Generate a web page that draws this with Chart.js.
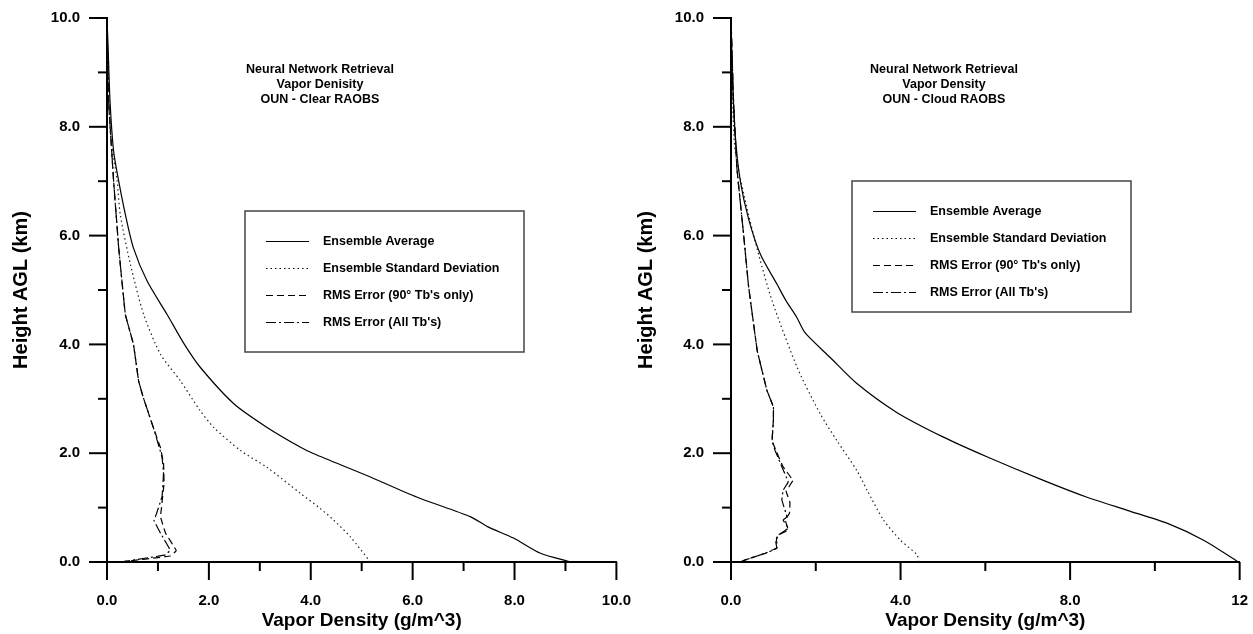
<!DOCTYPE html>
<html>
<head>
<meta charset="utf-8">
<script src="https://cdn.jsdelivr.net/npm/chart.js@4.4.1/dist/chart.umd.min.js"></script>
<style>
  html, body { margin: 0; padding: 0; background: #fff; overflow: hidden; }
  #left { position: absolute; left: 0; top: 0; }
  #right { position: absolute; left: 625px; top: 0; }
</style>
</head>
<body>
<canvas id="left" width="643" height="634"></canvas>
<canvas id="right" width="635" height="634"></canvas>
<script>
// Clear RAOBS - heights (km) and vapor density (g/m^3)
var clearAvgHeight = [0, 0.16, 0.44, 0.65, 0.83, 1.19, 1.59, 1.99, 2.11, 2.47, 2.91, 3.58, 4.0, 4.55, 5.16, 5.77, 6.39, 7.0, 7.55, 8.46, 9.5, 10];
var clearAvgValue  = [9.1, 8.51, 7.98, 7.47, 7.14, 6.09, 5.1, 4.06, 3.8, 3.15, 2.49, 1.83, 1.52, 1.18, 0.79, 0.52, 0.36, 0.23, 0.13, 0.06, 0.02, 0];

var clearStdHeight = [0, 0.46, 0.77, 0.98, 1.26, 1.74, 2.05, 2.47, 2.78, 3.33, 3.82, 4.55, 5.47, 6.39, 7.0, 7.85, 9.0, 10];
var clearStdValue  = [5.17, 4.78, 4.45, 4.19, 3.8, 3.14, 2.62, 2.1, 1.83, 1.44, 1.05, 0.72, 0.46, 0.26, 0.2, 0.07, 0.02, 0];

var clearRms90Height = [0, 0.11, 0.21, 0.53, 0.83, 1.0, 1.45, 1.81, 2.1, 2.47, 3.03, 3.33, 4.0, 4.55, 5.77, 7.0, 8.5, 10];
var clearRms90Value  = [0.26, 1.24, 1.36, 1.15, 1.05, 1.07, 1.12, 1.11, 1.05, 0.91, 0.71, 0.62, 0.52, 0.36, 0.23, 0.13, 0.03, 0];

var clearRmsAllHeight = [0, 0.13, 0.22, 0.53, 0.77, 0.83, 1.2, 1.63, 1.93, 2.47, 3.03, 3.33, 4.0, 4.55, 5.77, 7.0, 8.5, 10];
var clearRmsAllValue  = [0.26, 1.15, 1.24, 1.05, 0.92, 0.95, 1.08, 1.11, 1.08, 0.91, 0.71, 0.62, 0.52, 0.36, 0.23, 0.13, 0.03, 0];

// Cloud RAOBS
var cloudAvgHeight = [0, 0.4, 0.71, 0.95, 1.19, 1.5, 1.93, 2.3, 2.75, 3.28, 3.76, 4.21, 4.5, 4.8, 5.1, 5.66, 6.32, 7.0, 7.85, 9.0, 10];
var cloudAvgValue  = [11.97, 11.15, 10.3, 9.35, 8.4, 7.37, 6.05, 5.0, 3.91, 2.97, 2.34, 1.75, 1.55, 1.3, 1.09, 0.69, 0.41, 0.22, 0.1, 0.03, 0];

var cloudStdHeight = [0, 0.13, 0.4, 0.77, 1.32, 1.68, 2.23, 2.73, 3.58, 4.8, 5.66, 6.5, 7.55, 8.5, 10];
var cloudStdValue  = [4.42, 4.39, 4.0, 3.6, 3.21, 2.97, 2.5, 2.1, 1.56, 0.97, 0.65, 0.38, 0.1, 0.04, 0];

var cloudRms90Height = [0, 0.04, 0.16, 0.27, 0.4, 0.49, 0.59, 0.77, 0.9, 1.1, 1.3, 1.5, 1.75, 2.05, 2.23, 2.6, 2.85, 3.15, 3.88, 4.8, 5.1, 6.0, 7.23, 8.46, 10];
var cloudRms90Value  = [0.22, 0.34, 0.81, 1.1, 1.07, 1.11, 1.35, 1.28, 1.38, 1.39, 1.3, 1.46, 1.23, 1.06, 0.97, 1.0, 1.0, 0.85, 0.62, 0.46, 0.41, 0.3, 0.14, 0.06, 0];

var cloudRmsAllHeight = [0, 0.04, 0.16, 0.25, 0.4, 0.49, 0.62, 0.77, 0.83, 1.14, 1.32, 1.47, 1.75, 2.05, 2.23, 2.6, 2.85, 3.15, 3.88, 4.8, 5.1, 6.0, 7.23, 8.46, 10];
var cloudRmsAllValue  = [0.22, 0.34, 0.81, 1.08, 1.05, 1.11, 1.35, 1.23, 1.32, 1.2, 1.23, 1.35, 1.2, 1.04, 0.97, 1.0, 1.0, 0.85, 0.62, 0.46, 0.41, 0.3, 0.14, 0.06, 0];

var seriesNames = ['Ensemble Average', 'Ensemble Standard Deviation', "RMS Error (90\u00b0 Tb's only)", "RMS Error (All Tb's)"];

// tick labels (major ticks only)
var heightTickLabels = ['0.0', '2.0', '4.0', '6.0', '8.0', '10.0'];
var clearXTickLabels = ['0.0', '2.0', '4.0', '6.0', '8.0', '10.0'];
var cloudXTickLabels = ['0.0', '4.0', '8.0', '12'];

var clearTitle = ['Neural Network Retrieval', 'Vapor Denisity', 'OUN - Clear RAOBS'];
var cloudTitle = ['Neural Network Retrieval', 'Vapor Density', 'OUN - Cloud RAOBS'];

Chart.defaults.font.family = '"Liberation Sans", Arial, sans-serif';
Chart.defaults.color = '#000';

var FONT = '"Liberation Sans", Arial, sans-serif';
var dashes = [[], [1.5, 3], [7, 4], [10, 3, 2, 3]];

function toPoints(heights, values){
    var pts = [];
    for (var i = 0; i < heights.length; i++)
        pts.push({x: values[i], y: heights[i]});
    return pts;
}

// draws tick marks, the title block and the boxed legend
var profileDecor = {
    id: 'profileDecor',
    afterDraw: function(chart, args, opts){
        var ctx = chart.ctx;
        var area = chart.chartArea;
        ctx.save();
        ctx.strokeStyle = '#000';
        ctx.lineWidth = 2;
        ['x', 'y'].forEach(function(id){
            var sc = chart.scales[id];
            sc.ticks.forEach(function(t){
                var len = t.label === '' ? 9 : 18;
                var p = sc.getPixelForValue(t.value);
                ctx.beginPath();
                if (id === 'x'){
                    ctx.moveTo(p, area.bottom);
                    ctx.lineTo(p, area.bottom + len);
                } else {
                    ctx.moveTo(area.left - len, p);
                    ctx.lineTo(area.left, p);
                }
                ctx.stroke();
            });
        });

        // title lines
        ctx.fillStyle = '#000';
        ctx.font = 'bold 12.5px ' + FONT;
        ctx.textAlign = 'center';
        ctx.textBaseline = 'middle';
        opts.title.forEach(function(s, i){
            ctx.fillText(s, area.left + opts.titleX, area.top + opts.titleY + i * 15);
        });

        // legend box
        var b = opts.box;
        var bx = Math.round(area.left + b.left), by = Math.round(area.top + b.top);
        ctx.lineWidth = 1.5;
        ctx.strokeStyle = '#444';
        ctx.strokeRect(bx, by, b.width, b.height);
        ctx.textAlign = 'left';
        chart.data.datasets.forEach(function(ds, i){
            var y = by + 30 + i * 27 + 0.5;
            ctx.setLineDash(ds.borderDash);
            ctx.strokeStyle = '#000';
            ctx.lineWidth = 1;
            ctx.beginPath();
            ctx.moveTo(bx + 21, y);
            ctx.lineTo(bx + 64, y);
            ctx.stroke();
            ctx.setLineDash([]);
            ctx.fillText(ds.label, bx + 78, y);
        });
        ctx.restore();
    }
};

function makeChart(id, series, xMax, xStep, xMajor, xLabels, title, box, yWidth){
    var datasets = series.map(function(s, i){
        return {
            label: seriesNames[i],
            data: toPoints(s[0], s[1]),
            showLine: true,
            borderColor: i === 1 ? '#222' : '#000',
            borderWidth: 1.2,
            borderDash: dashes[i],
            pointRadius: 0,
            tension: i < 2 ? 0.25 : 0.05,
            clip: false
        };
    });
    return new Chart(document.getElementById(id), {
        type: 'scatter',
        data: {datasets: datasets},
        plugins: [profileDecor],
        options: {
            responsive: false,
            animation: false,
            layout: {padding: {top: 16, right: 0, left: 0, bottom: 0}},
            plugins: {
                legend: {display: false},
                tooltip: {enabled: false},
                profileDecor: {title: title, titleX: 213, titleY: 52, box: box}
            },
            scales: {
                x: {
                    type: 'linear', min: 0, max: xMax,
                    afterFit: function(scale){ scale.height = 72; },
                    grid: {display: false, drawTicks: true, tickLength: 18},
                    border: {display: true, color: '#000', width: 2},
                    ticks: {
                        stepSize: xStep, autoSkip: false, maxRotation: 0, padding: 12,
                        font: {size: 15, weight: 'bold'},
                        callback: function(v){
                            var k = Math.round(v / xMajor);
                            return Math.abs(v - k * xMajor) < 1e-6 ? xLabels[k] : '';
                        }
                    },
                    title: {
                        display: true, text: 'Vapor Density (g/m^3)',
                        font: {size: 19, weight: 'bold'}, padding: {top: 0, bottom: 2}
                    }
                },
                y: {
                    type: 'linear', min: 0, max: 10,
                    afterFit: function(scale){ scale.width = yWidth; },
                    grid: {display: false, drawTicks: true, tickLength: 18},
                    border: {display: true, color: '#000', width: 2},
                    ticks: {
                        stepSize: 1, autoSkip: false, padding: 9,
                        font: {size: 15, weight: 'bold'},
                        callback: function(v){
                            var k = Math.round(v / 2);
                            return Math.abs(v - k * 2) < 1e-6 ? heightTickLabels[k] : '';
                        }
                    },
                    title: {
                        display: true, text: 'Height AGL (km)',
                        font: {size: 20, weight: 'bold'}, padding: {top: 9, bottom: 0}
                    }
                }
            }
        }
    });
}

makeChart('left', [
    [clearAvgHeight, clearAvgValue],
    [clearStdHeight, clearStdValue],
    [clearRms90Height, clearRms90Value],
    [clearRmsAllHeight, clearRmsAllValue]
], 10, 1, 2, clearXTickLabels, clearTitle,
   {left: 138, top: 193, width: 279, height: 141}, 107);

makeChart('right', [
    [cloudAvgHeight, cloudAvgValue],
    [cloudStdHeight, cloudStdValue],
    [cloudRms90Height, cloudRms90Value],
    [cloudRmsAllHeight, cloudRmsAllValue]
], 12, 2, 4, cloudXTickLabels, cloudTitle,
   {left: 121, top: 163, width: 279, height: 131}, 106);
</script>
</body>
</html>
